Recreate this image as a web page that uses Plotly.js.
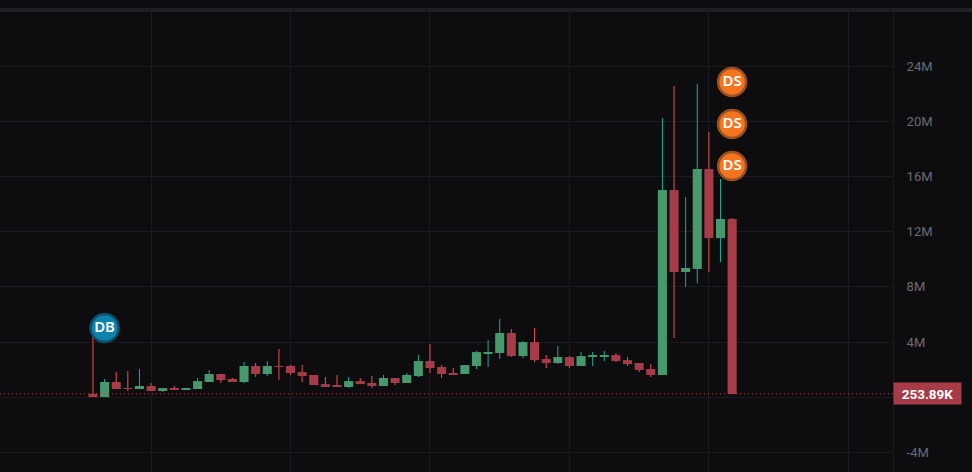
<!DOCTYPE html>
<html>
<head>
<meta charset="utf-8">
<script src="https://cdn.plot.ly/plotly-3.0.1.min.js"></script>
<style>
  html, body { margin: 0; padding: 0; background: #0d0d10; }
  #chart { width: 972px; height: 472px; }
</style>
</head>
<body>
<div id="chart"></div>
<script>
// candle values, in millions
let opens = [0.26, 0.02, 1.11, 0.67, 0.60, 0.82, 0.46, 0.67, 0.60, 0.60, 1.11, 1.69, 1.33, 1.11,
  2.27, 1.69, 2.27, 2.27, 1.83, 1.62, 0.96, 0.89, 0.75, 1.18, 1.04, 0.82, 1.40, 1.04,
  1.54, 2.63, 2.20, 1.76, 1.69, 2.27, 3.21, 3.21, 4.66, 2.99, 4.00, 2.78, 2.49, 2.92,
  2.27, 2.99, 2.99, 3.06, 2.70, 2.49, 2.05, 1.62, 15.02, 9.08, 9.30, 16.54, 11.54, 12.92];
let highs = [4.37, 1.33, 1.83, 1.90, 2.05, 1.04, 0.67, 0.82, 0.67, 1.40, 1.98, 1.69, 1.40, 2.56,
  2.49, 2.63, 3.50, 2.34, 2.34, 1.62, 1.47, 1.62, 1.47, 1.40, 1.54, 1.62, 1.40, 1.76,
  3.06, 3.86, 2.34, 2.12, 2.34, 3.35, 4.15, 5.67, 4.95, 4.08, 5.02, 3.06, 3.72, 2.99,
  3.28, 3.28, 3.35, 3.21, 2.92, 2.49, 2.41, 20.24, 22.56, 14.51, 22.70, 19.22, 15.82, 12.99];
let lows = [0.02, 0.02, 0.60, 0.46, 0.60, 0.46, 0.38, 0.60, 0.53, 0.60, 1.11, 1.04, 1.11, 1.04,
  1.47, 1.54, 1.25, 1.62, 1.11, 0.89, 0.75, 0.82, 0.67, 0.96, 0.67, 0.82, 0.89, 1.04,
  1.47, 1.76, 1.40, 1.62, 1.69, 2.05, 2.20, 2.78, 2.92, 2.85, 2.56, 2.12, 2.41, 2.12,
  2.27, 2.27, 2.63, 2.56, 2.27, 1.83, 1.47, 1.62, 4.30, 8.00, 8.27, 9.08, 9.80, 0.25];
let closes = [0.02, 1.11, 0.60, 0.62, 0.82, 0.46, 0.67, 0.60, 0.67, 1.18, 1.69, 1.25, 1.11, 2.27,
  1.69, 2.27, 2.20, 1.76, 1.54, 0.89, 0.82, 0.82, 1.18, 0.96, 0.82, 1.40, 1.04, 1.62,
  2.63, 2.12, 1.69, 1.69, 2.34, 3.28, 3.28, 4.66, 2.99, 4.00, 2.70, 2.49, 2.92, 2.27,
  2.99, 3.06, 3.06, 2.63, 2.41, 1.98, 1.62, 15.02, 9.08, 9.37, 16.54, 11.54, 12.92, 0.25];

let lastPrice = 0.25389;
let lastPriceLabel = '253.89K';

let dbX = [1];
let dbY = [5.02];
let dsX = [55, 55, 55];
let dsY = [22.85, 19.8, 16.76];

let gridX = [5, 17, 29, 41, 53, 65];
let tickVals = [24, 20, 16, 12, 8, 4, 0, -4];
let tickText = ['24M', '20M', '16M', '12M', '8M', '4M', '', '-4M'];

let upBody = '#46996d';
let downBody = '#a53c47';
// slightly under full alpha so plotly rounds the thin bars to one whole pixel
let upWick = 'rgba(38,166,154,0.99)';
let downWick = 'rgba(239,83,80,0.99)';
let gridColor = '#1b1b1f';
let bgColor = '#0d0d10';

function pick(up, values) {
  return values.filter(function(v, i) {
    return (closes[i] >= opens[i]) === up;
  });
}

function wickTrace(up, color) {
  let x = pick(up, opens.map(function(v, i) { return i; }));
  let base = pick(up, lows);
  let h = pick(up, highs);
  return {
    type: 'bar',
    x: x,
    base: base,
    y: h.map(function(v, i) { return v - base[i]; }),
    width: 0.0861,
    marker: { color: color, line: { width: 0 } },
    hoverinfo: 'skip'
  };
}

function bodyTrace(up, color) {
  let x = pick(up, opens.map(function(v, i) { return i; }));
  let o = pick(up, opens);
  let c = pick(up, closes);
  return {
    type: 'bar',
    x: x,
    base: o.map(function(v, i) { return Math.min(v, c[i]); }),
    y: o.map(function(v, i) { return Math.abs(v - c[i]); }),
    width: 0.78,
    marker: { color: color, line: { width: 0 } },
    hoverinfo: 'skip'
  };
}

function signalTrace(x, y, label, fill, ring) {
  return {
    type: 'scatter',
    mode: 'markers+text',
    x: x,
    y: y,
    text: x.map(function() { return label; }),
    textposition: 'middle center',
    textfont: { family: 'Noto Sans', size: 15, color: '#ffffff', weight: 600 },
    marker: { size: 28, color: fill, line: { color: ring, width: 2.5 } },
    hoverinfo: 'skip'
  };
}

let traces = [
  wickTrace(true, upWick),
  wickTrace(false, downWick),
  bodyTrace(true, upBody),
  bodyTrace(false, downBody),
  signalTrace(dbX, dbY, 'DB', '#0d82ab', '#0b5068'),
  signalTrace(dsX, dsY, 'DS', '#f47420', '#97501f')
];

let layout = {
  width: 972,
  height: 472,
  showlegend: false,
  barmode: 'overlay',
  paper_bgcolor: bgColor,
  plot_bgcolor: bgColor,
  margin: { l: 0, r: 79, t: 12, b: 0, pad: 0 },
  xaxis: {
    range: [-8.0, 68.843],
    tickmode: 'array',
    tickvals: gridX,
    showticklabels: false,
    ticks: '',
    zeroline: false,
    gridcolor: gridColor,
    gridwidth: 1
  },
  yaxis: {
    side: 'right',
    range: [-5.41, 27.92],
    tickmode: 'array',
    tickvals: tickVals,
    ticktext: tickText,
    ticks: 'outside',
    ticklen: 10,
    tickcolor: 'rgba(0,0,0,0)',
    tickfont: { family: 'Roboto', size: 13, color: '#6a6b72' },
    showline: true,
    linecolor: gridColor,
    zeroline: false,
    gridcolor: gridColor,
    gridwidth: 1
  },
  shapes: [
    {
      type: 'rect',
      xref: 'paper',
      yref: 'paper',
      x0: 0,
      x1: 972 / 893,
      y0: 1,
      y1: 1 + 4 / 460,
      fillcolor: '#1e1e26',
      line: { width: 0 }
    },
    {
      type: 'line',
      xref: 'paper',
      yref: 'y',
      x0: 0,
      x1: 1,
      y0: lastPrice,
      y1: lastPrice,
      line: { color: '#c0444c', width: 1, dash: '1px,3px' }
    }
  ],
  annotations: [
    {
      xref: 'paper',
      yref: 'y',
      x: 1,
      y: lastPrice,
      xanchor: 'left',
      yanchor: 'middle',
      showarrow: false,
      text: lastPriceLabel,
      width: 63,
      height: 17,
      align: 'center',
      bgcolor: '#a53c47',
      borderpad: 2,
      font: { family: 'Roboto', size: 13.5, color: '#ffffff', weight: 700 }
    }
  ]
};

Plotly.newPlot('chart', traces, layout, { displayModeBar: false });
</script>
</body>
</html>
